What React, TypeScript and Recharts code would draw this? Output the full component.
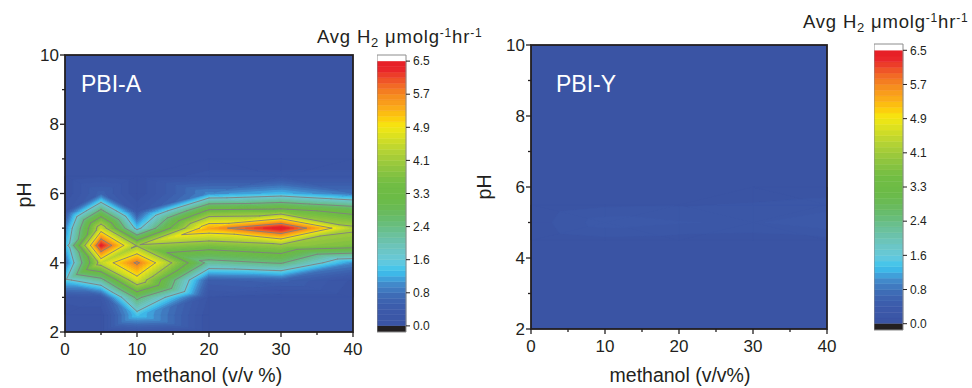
import React from 'react';
import { ComposedChart, XAxis, YAxis, ReferenceArea } from 'recharts';

// ---------- value scale ----------
const Z_MAX = 6.5;
const N_BANDS = 48;
const BAND = Z_MAX / N_BANDS;
const CB_MIN = -0.15;
const CB_MAX = 6.65;

// ---------- axes ----------
const methanolDomain = [0, 40];
const pHDomain = [2, 10];
const methanolTicks = [0, 5, 10, 15, 20, 25, 30, 35, 40];
const pHTicks = [2, 3, 4, 5, 6, 7, 8, 9, 10];
const colorbarLabels = ['0.0', '0.8', '1.6', '2.4', '3.3', '4.1', '4.9', '5.7', '6.5'];

// ---------- measurement grid (pH rows) ----------
const pHLevels = [2, 2.5, 3, 3.5, 4, 4.5, 5, 5.5, 6, 6.5, 7, 8, 9, 10];

// PBI-A : avg H2 per methanol column, one value per pH row
const methanolA = [0, 5, 10, 20, 30, 40];
const h2A_m0 = [0, 0, 0.2, 1.5, 0.7, 1.2, 0.9, 0.2, 0, 0, 0, 0, 0, 0];
const h2A_m5 = [0, 0, 0.3, 2.2, 4.4, 6.4, 4.5, 2.6, 0.6, 0.1, 0, 0, 0, 0];
const h2A_m10 = [0.2, 1.4, 2.6, 4.6, 5.8, 4.0, 1.4, 0.3, 0, 0, 0, 0, 0, 0];
const h2A_m20 = [0, 0, 0.1, 0.5, 2.2, 3.6, 5.4, 3.4, 1.0, 0.2, 0, 0, 0, 0];
const h2A_m30 = [0, 0, 0, 0.6, 2.5, 3.9, 6.5, 3.5, 1.3, 0.2, 0, 0, 0, 0];
const h2A_m40 = [0, 0, 0, 0.1, 1.0, 3.6, 4.2, 3.0, 0.8, 0.2, 0, 0, 0, 0];

// PBI-Y
const methanolY = [0, 10, 20, 30, 40];
const h2Y_m0 = [0, 0, 0, 0, 0, 0, 0.05, 0, 0, 0, 0, 0, 0, 0];
const h2Y_m10 = [0, 0, 0, 0, 0, 0.08, 0.35, 0.1, 0, 0, 0, 0, 0, 0];
const h2Y_m20 = [0, 0, 0, 0, 0, 0.06, 0.28, 0.12, 0, 0, 0, 0, 0, 0];
const h2Y_m30 = [0, 0, 0, 0, 0, 0.05, 0.25, 0.15, 0, 0, 0, 0, 0, 0];
const h2Y_m40 = [0, 0, 0, 0, 0, 0.08, 0.38, 0.2, 0.03, 0, 0, 0, 0, 0];

const colsA = [h2A_m0, h2A_m5, h2A_m10, h2A_m20, h2A_m30, h2A_m40];
const colsY = [h2Y_m0, h2Y_m10, h2Y_m20, h2Y_m30, h2Y_m40];

const contourLevels = [1.625, 2.4375, 3.25, 4.0625, 4.875, 5.6875];

// ---------- colour map ----------
const stopValues = [0, 0.4, 0.7, 1.0, 1.2, 1.35, 1.6, 1.9, 2.2, 2.5, 2.8, 3.1, 3.5, 3.9, 4.3, 4.6, 4.9, 5.1, 5.4, 5.7, 6.0, 6.3, 6.5];
const stopColors = ['#3953a3', '#3c5aaa', '#3d67b3', '#4286c8', '#40a8e0', '#3cc3ee', '#66c9dc', '#6cc5c0', '#6bc1a0', '#68bd7c', '#69ba5c', '#6bbb47', '#72bd44', '#92c63e', '#b5d334', '#d5df24', '#f5e811', '#fdcc0c', '#faa61a', '#f5861f', '#f05a28', '#e9252a', '#e61e25'];

const FONT = '"Liberation Sans", Arial, Helvetica, sans-serif';
const INK = '#231f20';

function hexRgb(h: string) {
  const n = parseInt(h.slice(1), 16);
  return [(n >> 16) & 255, (n >> 8) & 255, n & 255];
}
function colorAt(v: number) {
  if (v <= stopValues[0]) return stopColors[0];
  for (let i = 1; i < stopValues.length; i++) {
    if (v <= stopValues[i]) {
      const t = (v - stopValues[i - 1]) / (stopValues[i] - stopValues[i - 1]);
      const a = hexRgb(stopColors[i - 1]);
      const b = hexRgb(stopColors[i]);
      const c = a.map((ai, k) => Math.round(ai + (b[k] - ai) * t));
      return `rgb(${c[0]},${c[1]},${c[2]})`;
    }
  }
  return stopColors[stopColors.length - 1];
}
const bandColors = Array.from({ length: N_BANDS }, (_, k) => colorAt((k + 0.5) * BAND));

type P = { x: number; y: number; z: number };
function clip(poly: P[], level: number, keepAbove: boolean): P[] {
  const out: P[] = [];
  const n = poly.length;
  for (let i = 0; i < n; i++) {
    const a = poly[i];
    const b = poly[(i + 1) % n];
    const fa = keepAbove ? a.z - level : level - a.z;
    const fb = keepAbove ? b.z - level : level - b.z;
    if (fa >= 0) out.push(a);
    if ((fa >= 0) !== (fb >= 0)) {
      const t = fa / (fa - fb);
      out.push({ x: a.x + t * (b.x - a.x), y: a.y + t * (b.y - a.y), z: a.z + t * (b.z - a.z) });
    }
  }
  return out;
}

function ContourField(props: any) {
  const { x, y, width, height, xs, ys, cols, title, titleDx, titleDy, levels } = props;
  if (![x, y, width, height].every((v: any) => Number.isFinite(v))) return null;
  const px = (m: number) => x + ((m - methanolDomain[0]) / (methanolDomain[1] - methanolDomain[0])) * width;
  const py = (p: number) => y + height - ((p - pHDomain[0]) / (pHDomain[1] - pHDomain[0])) * height;
  const polys: any[] = [];
  const lineD: string[] = [];
  let key = 0;
  for (let i = 0; i < xs.length - 1; i++) {
    for (let j = 0; j < ys.length - 1; j++) {
      const node = (a: number, b: number): P => ({ x: px(xs[a]), y: py(ys[b]), z: cols[a][b] });
      const A = node(i, j), B = node(i + 1, j), C = node(i + 1, j + 1), D = node(i, j + 1);
      const tris = (i + j) % 2 === 0 ? [[A, B, D], [B, C, D]] : [[A, B, C], [A, C, D]];
      for (const tri of tris) {
        const zs = tri.map((p) => p.z);
        const zmin = Math.min(...zs), zmax = Math.max(...zs);
        const k0 = Math.max(0, Math.min(N_BANDS - 1, Math.floor(zmin / BAND)));
        const k1 = Math.max(k0, Math.min(N_BANDS - 1, Math.floor(zmax / BAND)));
        for (let k = k0; k <= k1; k++) {
          if (k === 0 && k1 === 0) continue; // background colour already painted
          let poly: P[] = tri;
          if (k > 0) poly = clip(poly, k * BAND, true);
          if (k < N_BANDS - 1 && poly.length >= 3) poly = clip(poly, (k + 1) * BAND, false);
          if (poly.length < 3) continue;
          const pts = poly.map((p) => `${p.x.toFixed(2)},${p.y.toFixed(2)}`).join(' ');
          polys.push(
            <polygon key={key++} points={pts} fill={bandColors[k]} stroke={bandColors[k]} strokeWidth={0.9} strokeLinejoin="round" />
          );
        }
        for (const c of levels) {
          const pts: number[][] = [];
          for (let e = 0; e < 3; e++) {
            const a = tri[e], b = tri[(e + 1) % 3];
            if ((a.z - c) * (b.z - c) < 0) {
              const t = (c - a.z) / (b.z - a.z);
              pts.push([a.x + t * (b.x - a.x), a.y + t * (b.y - a.y)]);
            }
          }
          if (pts.length === 2) {
            lineD.push(`M${pts[0][0].toFixed(2)} ${pts[0][1].toFixed(2)}L${pts[1][0].toFixed(2)} ${pts[1][1].toFixed(2)}`);
          }
        }
      }
    }
  }
  return (
    <g>
      <rect x={x} y={y} width={width} height={height} fill={bandColors[0]} />
      {polys}
      <path d={lineD.join('')} stroke="#7f7f7f" strokeWidth={0.9} fill="none" strokeLinecap="round" />
      <rect x={x} y={y} width={width} height={height} fill="none" stroke={INK} strokeWidth={1.8} />
      <text x={x + titleDx} y={y + titleDy} fill="#ffffff" fontSize={23} fontFamily={FONT}>{title}</text>
    </g>
  );
}

const XTick = (props: any) => {
  const { x, y, payload } = props;
  const major = payload.value % 10 === 0;
  return (
    <g>
      <line x1={x} x2={x} y1={y} y2={y + (major ? 5 : 3)} stroke={INK} strokeWidth={1.3} />
      {major && (
        <text x={x} y={y + 23} textAnchor="middle" fontSize={17} fill={INK} fontFamily={FONT}>{payload.value}</text>
      )}
    </g>
  );
};
const YTick = (props: any) => {
  const { x, y, payload } = props;
  const major = payload.value % 2 === 0;
  return (
    <g>
      <line x1={x - (major ? 5 : 3)} x2={x} y1={y} y2={y} stroke={INK} strokeWidth={1.3} />
      {major && (
        <text x={x - 6} y={y + 6} textAnchor="end" fontSize={17} fill={INK} fontFamily={FONT}>{payload.value}</text>
      )}
    </g>
  );
};

const nodesOf = (xs: number[], cols: number[][]) =>
  xs.flatMap((m, i) => pHLevels.map((p, j) => ({ m, pH: p, h2: cols[i][j] })));
const nodesA = nodesOf(methanolA, colsA);
const nodesY = nodesOf(methanolY, colsY);

function MapChart({ data, xs, cols, title, margin, titleDx, titleDy, width }: any) {
  return (
    <ComposedChart width={width} height={388} data={data} margin={margin}>
      <XAxis type="number" dataKey="m" domain={methanolDomain} ticks={methanolTicks} interval={0}
        tick={<XTick />} tickLine={false} axisLine={false} tickSize={0} tickMargin={0} height={30} allowDataOverflow />
      <YAxis type="number" dataKey="pH" domain={pHDomain} ticks={pHTicks} interval={0}
        tick={<YTick />} tickLine={false} axisLine={false} tickSize={0} tickMargin={0} width={45} allowDataOverflow />
      <ReferenceArea x1={methanolDomain[0]} x2={methanolDomain[1]} y1={pHDomain[0]} y2={pHDomain[1]} ifOverflow="visible"
        shape={(p: any) => (
          <ContourField {...p} xs={xs} ys={pHLevels} cols={cols} levels={contourLevels} title={title} titleDx={titleDx} titleDy={titleDy} />
        )} />
    </ComposedChart>
  );
}

const cbTicks = colorbarLabels.map((_, i) => (i * Z_MAX) / (colorbarLabels.length - 1));
const cbData = [{ x: 0, v: 0 }, { x: 1, v: Z_MAX }];

function ColorBar({ margin }: any) {
  return (
    <ComposedChart width={62} height={388} data={cbData} margin={margin}>
      <XAxis type="number" dataKey="x" domain={[0, 1]} hide />
      <YAxis type="number" dataKey="v" orientation="right" domain={[CB_MIN, CB_MAX]} ticks={cbTicks} interval={0}
        tickFormatter={(_: any, i: number) => colorbarLabels[i]} width={33} tickSize={4} tickMargin={3}
        axisLine={false} tickLine={{ stroke: INK, strokeWidth: 1 }}
        tick={{ fontSize: 12, fill: INK, fontFamily: FONT }} allowDataOverflow />
      {bandColors.map((c, k) => (
        <ReferenceArea key={k} x1={0} x2={1} y1={k * BAND} y2={(k + 1) * BAND} fill={c} fillOpacity={1}
          stroke={c} strokeWidth={0.5} ifOverflow="visible" />
      ))}
      <ReferenceArea x1={0} x2={1} y1={Z_MAX} y2={CB_MAX} fill="#ffffff" fillOpacity={1} ifOverflow="visible" />
      <ReferenceArea x1={0} x2={1} y1={CB_MIN} y2={0} fill="#231f20" fillOpacity={1} ifOverflow="visible" />
      <ReferenceArea x1={0} x2={1} y1={CB_MIN} y2={CB_MAX} fill="none" fillOpacity={0} stroke="#8c8c8c" strokeWidth={1} ifOverflow="visible" />
    </ComposedChart>
  );
}

function UnitTitle({ x, y }: { x: number; y: number }) {
  return (
    <text x={x} y={y} fontSize={18.5} fill={INK} fontFamily={FONT} letterSpacing={0.8}>
      Avg H<tspan dy={4} fontSize={13}>2</tspan>
      <tspan dy={-4}> μmolg</tspan>
      <tspan dy={-6} fontSize={12}>-1</tspan>
      <tspan dy={6}>hr</tspan>
      <tspan dy={-6} fontSize={12}>-1</tspan>
    </text>
  );
}

export default function App() {
  return (
    <div style={{ position: 'absolute', left: 0, top: 0, width: 972, height: 388, background: '#ffffff', overflow: 'hidden', fontFamily: FONT }}>
      <div style={{ position: 'absolute', left: 0, top: 0 }}>
        <MapChart width={372} data={nodesA} xs={methanolA} cols={colsA} title="PBI-A" titleDx={16} titleDy={37}
          margin={{ top: 55, right: 19, bottom: 26, left: 20 }} />
      </div>
      <div style={{ position: 'absolute', left: 377, top: 0 }}>
        <ColorBar margin={{ top: 55, right: 0, bottom: 56, left: 0 }} />
      </div>
      <div style={{ position: 'absolute', left: 486, top: 0 }}>
        <MapChart width={360} data={nodesY} xs={methanolY} cols={colsY} title="PBI-Y" titleDx={25} titleDy={47}
          margin={{ top: 45, right: 19, bottom: 29, left: 0 }} />
      </div>
      <div style={{ position: 'absolute', left: 874, top: 0 }}>
        <ColorBar margin={{ top: 44, right: 0, bottom: 58, left: 0 }} />
      </div>
      <svg width={972} height={388} style={{ position: 'absolute', left: 0, top: 0, pointerEvents: 'none' }}>
        <UnitTitle x={317} y={43} />
        <UnitTitle x={803} y={28} />
        <text x={24} y={195} fontSize={19.5} fill={INK} fontFamily={FONT} textAnchor="middle" transform="rotate(-90 24 195)" dominantBaseline="central">pH</text>
        <text x={209} y={382} fontSize={19.5} fill={INK} fontFamily={FONT} textAnchor="middle">methanol (v/v %)</text>
        <text x={484} y={187} fontSize={19.5} fill={INK} fontFamily={FONT} textAnchor="middle" transform="rotate(-90 484 187)" dominantBaseline="central">pH</text>
        <text x={680} y={382} fontSize={19.5} fill={INK} fontFamily={FONT} textAnchor="middle">methanol (v/v%)</text>
      </svg>
    </div>
  );
}
